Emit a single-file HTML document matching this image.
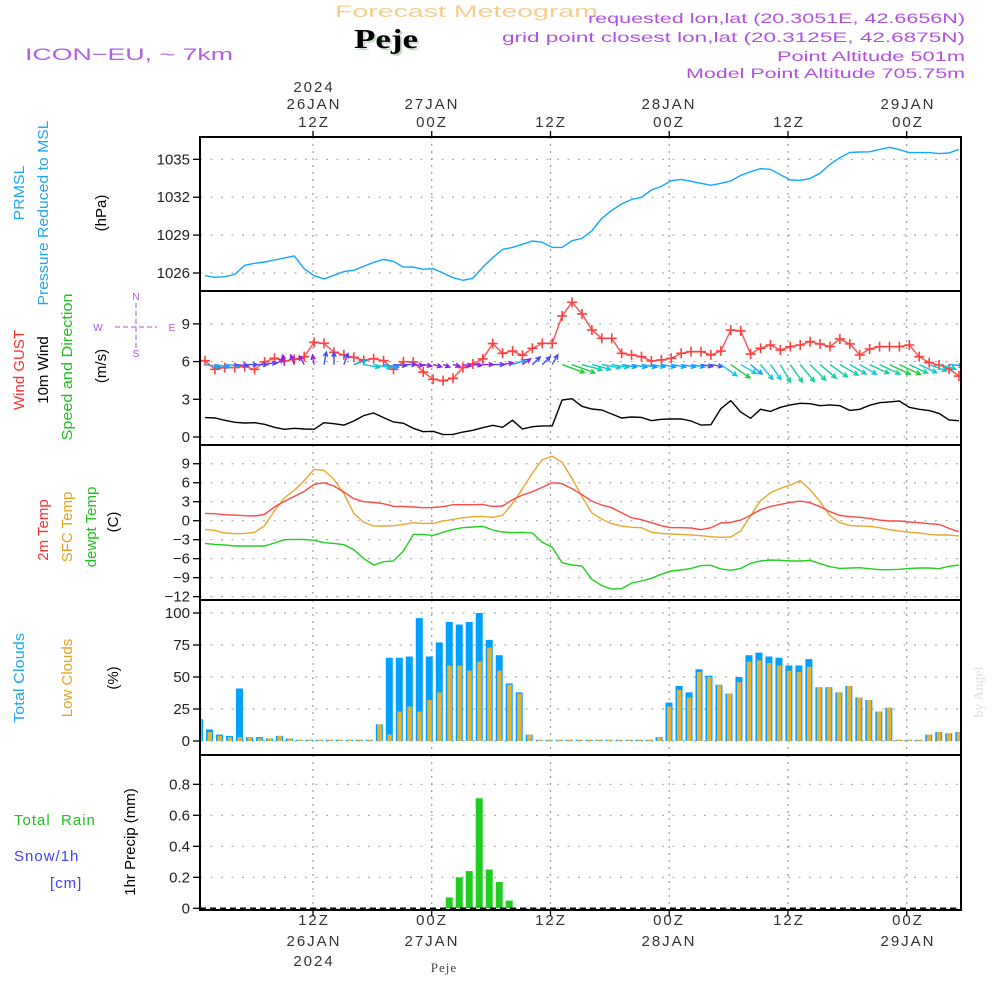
<!DOCTYPE html>
<html><head><meta charset="utf-8">
<style>
html,body{margin:0;padding:0;background:#fff;}
svg{display:block;font-family:"Liberation Sans",sans-serif;}
.tk{font-size:15px;fill:#222;}
.tl{font-size:15px;fill:#333;letter-spacing:2px;text-anchor:middle;}
.lab{font-size:15px;text-anchor:middle;}
</style></head>
<body>
<svg id="chart" width="1000" height="1000" viewBox="0 0 1000 1000">
<text x="335" y="17" font-size="17" fill="#f3cf8f" textLength="263" lengthAdjust="spacingAndGlyphs">Forecast Meteogram</text>
<text x="356" y="50" font-size="27" font-weight="bold" font-family="Liberation Serif, serif" fill="#c8dcc8" textLength="64" lengthAdjust="spacingAndGlyphs">Peje</text>
<text x="354" y="48" font-size="27" font-weight="bold" font-family="Liberation Serif, serif" fill="#000" textLength="64" lengthAdjust="spacingAndGlyphs">Peje</text>
<text x="25" y="60" font-size="17" fill="#b060e8" textLength="208" lengthAdjust="spacingAndGlyphs">ICON−EU, ~ 7km</text>
<text x="588" y="23" font-size="14" fill="#b050e0" textLength="377" lengthAdjust="spacingAndGlyphs">requested lon,lat (20.3051E, 42.6656N)</text>
<text x="502" y="42" font-size="14" fill="#b050e0" textLength="463" lengthAdjust="spacingAndGlyphs">grid point closest lon,lat (20.3125E, 42.6875N)</text>
<text x="777" y="61" font-size="14" fill="#b050e0" textLength="188" lengthAdjust="spacingAndGlyphs">Point Altitude 501m</text>
<text x="686" y="78" font-size="14" fill="#b050e0" textLength="279" lengthAdjust="spacingAndGlyphs">Model Point Altitude 705.75m</text>

<g>
<text class="tl" x="314" y="92">2024</text>
<text class="tl" x="314" y="109">26JAN</text><text class="tl" x="314" y="127">12Z</text>
<text class="tl" x="432" y="109">27JAN</text><text class="tl" x="432" y="127">00Z</text>
<text class="tl" x="551" y="127">12Z</text>
<text class="tl" x="669" y="109">28JAN</text><text class="tl" x="669" y="127">00Z</text>
<text class="tl" x="789" y="127">12Z</text>
<text class="tl" x="908" y="109">29JAN</text><text class="tl" x="908" y="127">00Z</text>
</g>
<g>
<text class="tl" x="314" y="925">12Z</text><text class="tl" x="314" y="946">26JAN</text><text class="tl" x="314" y="966">2024</text>
<text class="tl" x="432" y="925">00Z</text><text class="tl" x="432" y="946">27JAN</text>
<text class="tl" x="551" y="925">12Z</text>
<text class="tl" x="669" y="925">00Z</text><text class="tl" x="669" y="946">28JAN</text>
<text class="tl" x="789" y="925">12Z</text>
<text class="tl" x="908" y="925">00Z</text><text class="tl" x="908" y="946">29JAN</text>
<text x="444" y="972" font-size="13" font-family="Liberation Serif, serif" fill="#444" text-anchor="middle" letter-spacing="1">Peje</text>
</g>

<g>
<text class="lab" transform="translate(24,193) rotate(-90)" fill="#20a8f0" textLength="55" lengthAdjust="spacingAndGlyphs">PRMSL</text>
<text class="lab" transform="translate(48,213) rotate(-90)" fill="#20a8f0" textLength="185" lengthAdjust="spacingAndGlyphs">Pressure Reduced to MSL</text>
<text class="lab" transform="translate(106,213) rotate(-90)" fill="#000">(hPa)</text>
<text class="lab" transform="translate(24,370) rotate(-90)" fill="#ff3030">Wind GUST</text>
<text class="lab" transform="translate(48,370) rotate(-90)" fill="#000">10m Wind</text>
<text class="lab" transform="translate(72,367) rotate(-90)" fill="#20c020" textLength="147" lengthAdjust="spacingAndGlyphs">Speed and Direction</text>
<text class="lab" transform="translate(106,366) rotate(-90)" fill="#000">(m/s)</text>
<g fill="#b050e0" font-size="10" text-anchor="middle">
<text x="98" y="331">W</text><text x="172" y="331">E</text><text x="136" y="300">N</text><text x="136" y="357">S</text>
<line x1="115" y1="327" x2="157" y2="327" stroke="#b050e0" stroke-dasharray="5,3"/>
<line x1="136" y1="303" x2="136" y2="348" stroke="#b050e0" stroke-dasharray="5,3"/>
</g>
<text class="lab" transform="translate(48,530) rotate(-90)" fill="#ff3030">2m Temp</text>
<text class="lab" transform="translate(72,527) rotate(-90)" fill="#e8a020">SFC Temp</text>
<text class="lab" transform="translate(96,527) rotate(-90)" fill="#20c020">dewpt Temp</text>
<text class="lab" transform="translate(118,522) rotate(-90)" fill="#000">(C)</text>
<text class="lab" transform="translate(24,678) rotate(-90)" fill="#20a8f0" textLength="90" lengthAdjust="spacingAndGlyphs">Total Clouds</text>
<text class="lab" transform="translate(72,678) rotate(-90)" fill="#e8a020">Low Clouds</text>
<text class="lab" transform="translate(118,678) rotate(-90)" fill="#000">(%)</text>
<text x="14" y="825" font-size="15" fill="#20c020" letter-spacing="1">Total&#160;&#160;Rain</text>
<text x="14" y="861" font-size="15" fill="#4040ff" letter-spacing="1">Snow/1h</text>
<text x="50" y="888" font-size="15" fill="#4040ff" letter-spacing="1">[cm]</text>
<text class="lab" transform="translate(135,842) rotate(-90)" fill="#000">1hr Precip (mm)</text>
<text transform="translate(983,692) rotate(-90)" font-size="14" font-family="Liberation Serif, serif" fill="#ddd" text-anchor="middle">by Angel</text>
</g>
<g id="plots"></g>
</svg>
<script>
// ---------- data ----------
const pressure = [1025.79,1025.66,1025.71,1025.89,1026.61,1026.77,1026.87,1027.03,1027.19,1027.35,1026.34,1025.79,1025.53,1025.82,1026.11,1026.21,1026.53,1026.84,1027.08,1026.92,1026.47,1026.47,1026.29,1026.34,1026.0,1025.63,1025.42,1025.58,1026.47,1027.21,1027.87,1028.03,1028.27,1028.53,1028.43,1028.03,1028.03,1028.56,1028.74,1029.35,1030.33,1030.96,1031.46,1031.83,1031.99,1032.57,1032.86,1033.31,1033.41,1033.26,1033.1,1032.94,1033.1,1033.28,1033.73,1034.02,1034.26,1034.21,1033.78,1033.36,1033.33,1033.49,1033.89,1034.6,1035.13,1035.55,1035.58,1035.6,1035.79,1035.95,1035.76,1035.53,1035.53,1035.53,1035.45,1035.5,1035.79];
const windGust = [6.07,5.38,5.52,5.52,5.6,5.38,5.97,6.26,6.05,6.18,6.39,7.53,7.45,6.74,6.53,6.34,6.1,6.23,6.07,5.38,5.99,5.97,5.17,4.59,4.48,4.67,5.52,5.81,6.21,7.43,6.66,6.84,6.5,7.06,7.45,7.45,9.63,10.72,9.79,8.51,7.85,7.85,6.66,6.53,6.39,6.05,6.13,6.26,6.66,6.79,6.79,6.53,6.84,8.51,8.44,6.6,7.06,7.32,6.92,7.19,7.32,7.59,7.4,7.19,7.8,7.4,6.53,7.0,7.19,7.19,7.19,7.32,6.39,5.92,5.73,5.41,4.85];
const windSpeed = [1.54,1.51,1.33,1.17,1.11,1.14,1.01,0.77,0.61,0.69,0.64,0.61,1.14,1.06,0.95,1.27,1.7,1.91,1.54,1.19,1.09,0.69,0.42,0.45,0.19,0.21,0.4,0.53,0.74,0.93,0.77,1.33,0.64,0.82,0.88,0.88,2.94,3.05,2.44,2.23,2.15,1.83,1.51,1.59,1.56,1.3,1.41,1.43,1.43,1.27,0.95,0.98,2.25,2.89,1.99,1.49,2.2,2.04,2.36,2.55,2.68,2.65,2.49,2.55,2.49,2.12,2.2,2.52,2.73,2.79,2.86,2.36,2.2,2.1,1.88,1.35,1.3];
const windArrowAngle = [10,10,5,5,0,0,-10,-30,-100,-110,-120,-100,-80,-90,-70,-20,10,10,10,5,0,5,10,15,20,15,10,5,0,0,-10,-20,-35,-45,-45,-60,20,20,15,15,10,10,10,10,10,10,10,10,10,10,10,10,35,35,30,40,50,55,60,55,50,45,40,35,30,30,30,25,25,25,25,25,25,20,15,5,-5];
const temp2m = [1.16,1.1,0.95,0.89,0.79,0.74,1.0,2.16,3.05,3.84,4.63,5.74,6.0,5.47,4.53,3.47,3.0,2.89,2.68,2.26,2.26,2.16,2.05,2.1,2.21,2.53,2.53,2.53,2.58,2.26,2.32,3.32,4.05,4.58,5.26,6.0,5.84,5.05,4.1,3.1,2.47,2.05,1.26,0.47,0.16,-0.32,-0.79,-1.1,-1.1,-1.16,-1.42,-1.1,-0.37,-0.26,0.1,0.89,1.74,2.26,2.58,2.89,3.1,2.84,2.21,1.42,0.84,0.63,0.53,0.37,0.1,-0.05,-0.05,-0.21,-0.32,-0.47,-0.58,-1.21,-1.74];
const tempSfc = [-1.37,-1.53,-1.95,-2.05,-2.0,-1.84,-0.79,1.53,3.63,4.79,6.32,8.1,7.95,6.53,4.26,1.16,-0.26,-0.84,-0.84,-0.79,-0.58,-0.32,-0.42,-0.42,-0.05,0.21,0.47,0.63,0.68,0.53,0.84,2.74,5.05,7.53,9.63,10.2,9.21,6.68,3.79,1.21,0.26,-0.47,-0.84,-1.05,-1.1,-1.84,-2.0,-2.1,-2.16,-2.26,-2.37,-2.53,-2.63,-2.58,-1.63,0.79,3.16,4.42,5.1,5.63,6.32,4.89,3.0,0.79,-0.32,-0.74,-0.84,-0.89,-1.1,-1.42,-1.63,-1.84,-1.95,-2.16,-2.26,-2.26,-2.42];
const dewpoint = [-3.58,-3.74,-3.84,-4.0,-4.0,-4.0,-4.0,-3.53,-3.0,-2.95,-2.95,-3.1,-3.47,-3.58,-3.79,-4.58,-5.95,-7.0,-6.47,-6.37,-4.79,-2.16,-2.16,-2.32,-1.84,-1.37,-1.1,-1.0,-0.89,-1.47,-1.79,-1.89,-1.84,-1.95,-3.42,-4.21,-6.63,-7.0,-7.16,-9.26,-10.26,-10.79,-10.74,-9.84,-9.53,-9.1,-8.47,-7.95,-7.79,-7.53,-7.1,-7.05,-7.63,-7.84,-7.53,-6.74,-6.37,-6.21,-6.26,-6.37,-6.37,-6.26,-6.79,-7.26,-7.53,-7.47,-7.42,-7.58,-7.74,-7.74,-7.68,-7.53,-7.47,-7.47,-7.58,-7.21,-7.0];
const totalClouds = [17,9,5,4,41,3,3,2,4,2,1,0,0,0,0,0,0,0,13,65,65,66,96,66,77,93,91,93,100,79,67,45,38,5,0,0,0,0,0,0,0,0,0,0,0,0,3,30,43,38,56,51,44,37,50,67,69,66,65,59,59,64,42,42,38,43,34,32,23,26,0,0,0,5,7,6,7];
const lowClouds = [16,7,4,3,3,3,2,2,4,2,1,0,0,0,0,0,0,0,13,5,23,27,23,32,38,59,59,55,62,73,55,44,37,5,0,0,0,0,0,0,0,0,0,0,0,0,3,27,40,34,54,50,44,37,46,62,63,61,59,55,54,58,42,42,38,43,34,32,23,26,0,0,0,5,7,6,7];
const precip = [0,0,0,0,0,0,0,0,0,0,0,0,0,0,0,0,0,0,0,0,0,0,0,0,0,0.07,0.2,0.24,0.71,0.25,0.17,0.05,0,0,0,0,0,0,0,0,0,0,0,0,0,0,0,0,0,0,0,0,0,0,0,0,0,0,0,0,0,0,0,0,0,0,0,0,0,0,0,0,0,0,0,0,0];
const pressureTicks = [1026,1029,1032,1035];
const windTicks = [0,3,6,9];
const tempTicks = [-12,-9,-6,-3,0,3,6,9];
const cloudTicks = [0,25,50,75,100];
const precipTicks = [0,0.2,0.4,0.6,0.8];
const timeGridHours = [12,24,36,48,60,72];

// ---------- scales ----------
const X0=200, X1=961;
const xLine = k => 205 + 9.92*k;
const xBar = i => 196 + 9.99*i;
const xGrid = h => 313 + (h-12)*9.895;
const yP = v => 273 - (v-1026)*12.63;
const yW = v => 437 - v*12.57;
const yT = v => 520.7 - v*6.33;
const yC = v => 741 - v*1.28;
const yR = v => 908.3 - v*155;

const NS='http://www.w3.org/2000/svg';
const root=document.getElementById('plots');
function mk(tag, attrs, parent){
  const e=document.createElementNS(NS,tag);
  for(const k in attrs) e.setAttribute(k,attrs[k]);
  (parent||root).appendChild(e);
  return e;
}
const panels=[
  {name:'pressure-panel',top:137,bot:291,ticks:pressureTicks,y:yP,fmt:v=>v},
  {name:'wind-panel',top:291,bot:445,ticks:windTicks,y:yW,fmt:v=>v},
  {name:'temperature-panel',top:445,bot:600,ticks:tempTicks,y:yT,fmt:v=>v<0?'−'+(-v):v},
  {name:'clouds-panel',top:600,bot:755,ticks:cloudTicks,y:yC,fmt:v=>v},
  {name:'precip-panel',top:755,bot:910,ticks:precipTicks,y:yR,fmt:v=>v===0?'0':v.toFixed(1)}
];
panels.forEach((p,pi)=>{
  const g=mk('g',{});
  
  
  const cp=mk('clipPath',{id:'clip'+pi},g);
  mk('rect',{x:X0,y:p.top,width:X1-X0,height:p.bot-p.top},cp);
  p.ticks.forEach(t=>{
    const yy=p.y(t);
    const gl=mk('line',{x1:X0,x2:X1,y1:yy,y2:yy,stroke:'#aaa','stroke-width':1.2,'stroke-dasharray':'2,8.5'},g);
    
    
    mk('line',{x1:X0-7,x2:X0,y1:yy,y2:yy,stroke:'#000','stroke-width':1.3},g);
    const tx=mk('text',{x:X0-10,y:yy+5,'text-anchor':'end',class:'tk'},g);
    tx.textContent=p.fmt(t);
    
    
  });
  timeGridHours.forEach(h=>{
    const xx=xGrid(h);
    const vl=mk('line',{x1:xx,x2:xx,y1:p.top,y2:p.bot,stroke:'#999','stroke-width':1.2,'stroke-dasharray':'2,5'},g);
    
    
  });
  p.g=g;
});
timeGridHours.forEach(h=>{
  const xx=xGrid(h);
  mk('line',{x1:xx,x2:xx,y1:131,y2:137,stroke:'#000','stroke-width':1.3});
  mk('line',{x1:xx,x2:xx,y1:910,y2:916,stroke:'#000','stroke-width':1.3});
});
function polyline(arr, xf, yf, color, parent, name, clip){
  const pts=arr.map((v,k)=>xf(k).toFixed(1)+','+yf(v).toFixed(1)).join(' ');
  const l=mk('polyline',{points:pts,fill:'none',stroke:color,'stroke-width':1.4,'clip-path':'url(#'+clip+')'},parent);
  
  
}
polyline(pressure,xLine,yP,'#10a8ff',panels[0].g,'pressure-line','clip0');
polyline(windSpeed,xLine,yW,'#000',panels[1].g,'wind-speed-line','clip1');
polyline(windGust,xLine,yW,'#ff5050',panels[1].g,'wind-gust-line','clip1');
windGust.forEach((v,k)=>{
  const x=xLine(k), y=yW(v);
  const m=mk('path',{d:`M${x-5},${y}H${x+5}M${x},${y-5}V${y+5}`,stroke:'#ff4040','stroke-width':1.6,'clip-path':'url(#clip1)'},panels[1].g);
  
  
});
function windColor(s){
  if(s<0.8) return '#9020e0';
  if(s<1.25) return '#4848ff';
  if(s<1.7) return '#10a0ff';
  if(s<2.3) return '#10c8d0';
  if(s<2.75) return '#10d0a0';
  return '#20d040';
}
windSpeed.forEach((s,k)=>{
  const a=windArrowAngle[k]*Math.PI/180;
  const L=6+6*s;
  const x=xLine(k), y=yW(6)+3;
  const x2=x+L*Math.cos(a), y2=y+L*Math.sin(a);
  const h1=a+Math.PI-0.45, h2=a+Math.PI+0.45;
  const c=windColor(s);
  const ar=mk('path',{d:`M${x},${y}L${x2},${y2}M${x2+5*Math.cos(h1)},${y2+5*Math.sin(h1)}L${x2},${y2}L${x2+5*Math.cos(h2)},${y2+5*Math.sin(h2)}`,stroke:c,'stroke-width':1.4,fill:'none','clip-path':'url(#clip1)'},panels[1].g);
  
  
});
polyline(dewpoint,xLine,yT,'#20d020',panels[2].g,'dewpoint-line','clip2');
polyline(tempSfc,xLine,yT,'#e8a830',panels[2].g,'sfc-temp-line','clip2');
polyline(temp2m,xLine,yT,'#ff4848',panels[2].g,'temp-2m-line','clip2');
totalClouds.forEach((v,i)=>{
  const x=xBar(i), top=yC(v), h=Math.max(yC(0)-top,1.2);
  const b=mk('rect',{x:x,y:yC(0)-h,width:7,height:h,fill:'#00a0ff','clip-path':'url(#clip3)'},panels[3].g);
  
  
});
lowClouds.forEach((v,i)=>{
  const x=xBar(i), top=yC(v), h=Math.max(yC(0)-top,1.2);
  const b=mk('rect',{x:x+1.5,y:yC(0)-h,width:4.5,height:h,fill:'#e8b030','clip-path':'url(#clip3)'},panels[3].g);
  
  
});
precip.forEach((v,i)=>{
  if(v<=0) return;
  const b=mk('rect',{x:xBar(i),y:yR(v),width:7,height:yR(0)-yR(v),fill:'#20cc20'},panels[4].g);
  
  
});
mk('line',{x1:X0,x2:X1,y1:yR(0),y2:yR(0),stroke:'#000','stroke-width':1.5,'stroke-dasharray':'6,4'},panels[4].g);
panels.forEach(p=>{
  const f=mk('rect',{x:X0,y:p.top,width:X1-X0,height:p.bot-p.top,fill:'none',stroke:'#000','stroke-width':2});
  
  
});
</script>
</body></html>
